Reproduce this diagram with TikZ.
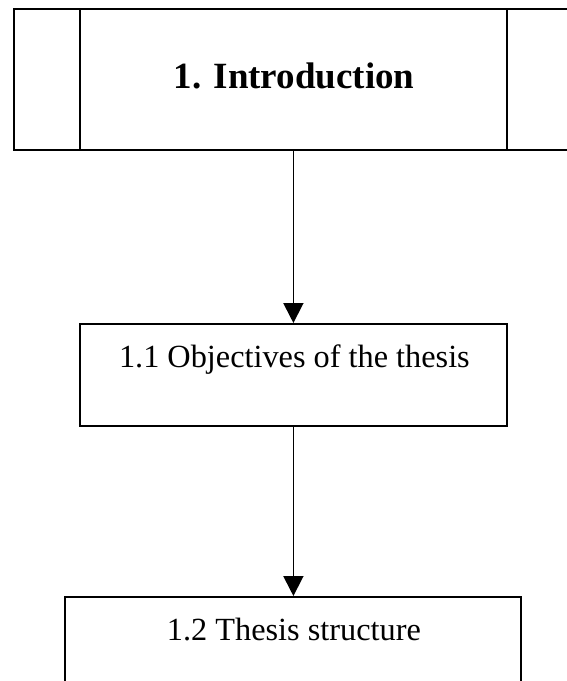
\documentclass[tikz,border=0pt]{standalone}
\usepackage{fontspec}
\setmainfont{Liberation Serif}
\usetikzlibrary{arrows.meta,positioning,calc}

\begin{document}
\begin{tikzpicture}[x=1pt,y=-1pt,
    box/.style={draw, line width=1.8pt, inner sep=0pt},
    link/.style={line width=1.8pt, -{Triangle[length=20pt,width=20pt]}},
    label/.style={anchor=base, font=\fontsize{32.3}{37}\selectfont}]
    \clip (0,0) rectangle (567,681);

    % 标题框（右边缘在图外）
    \node[box, minimum width=590pt, minimum height=141pt, anchor=north west] (intro) at (13,8) {};
    \draw[line width=1.8pt] ($(intro.north west)+(67,0)$) -- ($(intro.south west)+(67,0)$);
    \draw[line width=1.8pt] ($(intro.north west)+(494,0)$) -- ($(intro.south west)+(494,0)$);
    \node[anchor=base, font=\bfseries\fontsize{37}{42}\selectfont] (introtxt) at (294,88) {1. Introduction};

    % 1.1
    \node[box, minimum width=427pt, minimum height=102pt, anchor=north west] (obj) at (79,323) {};
    \node[label] (objtxt) at ($(obj.north)+(1,44)$) {1.1 Objectives of the thesis};

    % 1.2
    \node[box, minimum width=456pt, minimum height=130pt, anchor=north west] (struct) at (64,596) {};
    \node[label] (structtxt) at ($(struct.north)+(1,44)$) {1.2 Thesis structure};

    % 箭头
    \draw[link] (intro.south -| obj.north) -- (obj.north);
    \draw[link] (obj.south) -- (struct.north -| obj.south);
\end{tikzpicture}
\end{document}
